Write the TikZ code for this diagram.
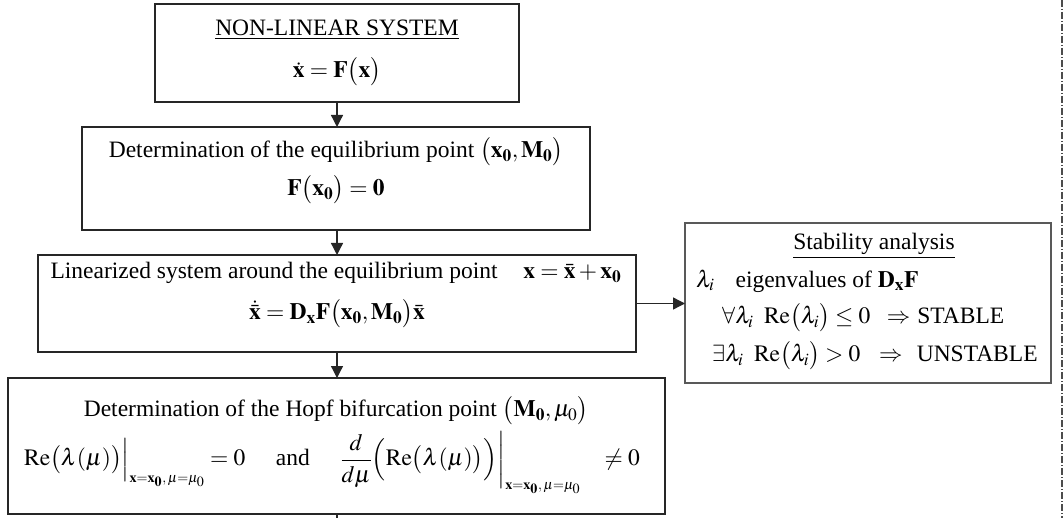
\documentclass[tikz,border=0pt]{standalone}
\usepackage{amsmath}
\usepackage{mathptmx}
\usepackage[no-math]{fontspec}
\setmainfont{Liberation Serif}
\usetikzlibrary{arrows.meta}
\begin{document}
\begin{tikzpicture}[x=1pt,y=-1pt,
  box/.style={draw=black!85,line width=1.6pt,inner sep=0pt,outer sep=0pt},
  sbox/.style={draw=black!65,line width=1.6pt,inner sep=0pt,outer sep=0pt},
  txt/.style={inner sep=0pt,font=\fontsize{23.5}{28}\selectfont},
  arr/.style={draw=black!85,line width=1.3pt,-{Triangle[length=12pt,width=12pt]}},
  plain/.style={draw=black!85,line width=1.3pt},
  dashline/.style={draw=black!70,line width=1.8pt,dash pattern=on 7pt off 2pt on 1pt off 2pt}]
\useasboundingbox (0,0) rectangle (1064,518);
% boxes
\node[box,minimum width=364pt,minimum height=98pt] (b1) at (337,53) {};
\node[box,minimum width=508pt,minimum height=103pt] (b2) at (336,178.5) {};
\node[box,minimum width=598pt,minimum height=97pt] (b3) at (337,303.5) {};
\node[box,minimum width=657pt,minimum height=136pt] (b4) at (336.5,446) {};
\node[sbox,minimum width=366pt,minimum height=160pt] (st) at (868,303) {};
% texts
\node[txt] (t1a) at (337,30) {\underline{NON-LINEAR SYSTEM}};
\node[txt] (t1b) at (337,72) {$\dot{\mathbf{x}}=\mathbf{F}\bigl(\mathbf{x}\bigr)$};
\node[txt] (t2a) at (336,152) {Determination of the equilibrium point $\bigl(\mathbf{x_0},\mathbf{M_0}\bigr)$};
\node[txt] (t2b) at (336,190) {$\mathbf{F}\bigl(\mathbf{x_0}\bigr)=\mathbf{0}$};
\node[txt] (t3a) at (336,273) {Linearized system around the equilibrium point\hspace{1.1em}$\mathbf{x}=\bar{\mathbf{x}}+\mathbf{x_0}$};
\node[txt] (t3b) at (337,314) {$\dot{\bar{\mathbf{x}}}=\mathbf{D_xF}\bigl(\mathbf{x_0},\mathbf{M_0}\bigr)\bar{\mathbf{x}}$};
\node[txt] (t4a) at (336,411) {Determination of the Hopf bifurcation point $\bigl(\mathbf{M_0},\mu_0\bigr)$};
\node[txt] (t4b) at (332,463) {$\mathrm{Re}\bigl(\lambda(\mu)\bigr)\Big|_{\scriptscriptstyle\mathbf{x}=\mathbf{x_0},\,\mu=\mu_0}=0$\hspace{1.3em}and\hspace{1.3em}$\dfrac{d}{d\mu}\Bigl(\mathrm{Re}\bigl(\lambda(\mu)\bigr)\Bigr)\bigg|_{\scriptscriptstyle\mathbf{x}=\mathbf{x_0},\,\mu=\mu_0}\hspace{0.8em}\neq 0$};
\node[txt] (s0) at (874,246) {\underline{Stability analysis}};
\node[txt,anchor=west] (s1) at (696,281) {$\lambda_i$\hspace{0.9em}eigenvalues of $\mathbf{D_xF}$};
\node[txt,anchor=west] (s2) at (722,318) {$\forall\lambda_i$\hspace{0.45em}$\mathrm{Re}\bigl(\lambda_i\bigr)\le 0$\hspace{0.7em}$\Rightarrow$\hspace{0.3em}STABLE};
\node[txt,anchor=west] (s3) at (712,356) {$\exists\lambda_i$\hspace{0.45em}$\mathrm{Re}\bigl(\lambda_i\bigr)>0$\hspace{0.8em}$\Rightarrow$\hspace{0.6em}UNSTABLE};
% connectors
\draw[arr] (b1.south) -- (b2.north -| b1.south);
\draw[arr] (b2.south -| b1.south) -- (b3.north -| b1.south);
\draw[arr] (b3.south) -- (b4.north -| b3.south);
\draw[arr] (b3.east) -- (st.west |- b3.east);
\coordinate (bot) at (337,518);
\draw[plain] (b4.south -| bot) -- (bot);
\coordinate (dtop) at (1062,0);
\coordinate (dbot) at (1062,518);
\draw[dashline] (dtop) -- (dbot);
\end{tikzpicture}
\end{document}
